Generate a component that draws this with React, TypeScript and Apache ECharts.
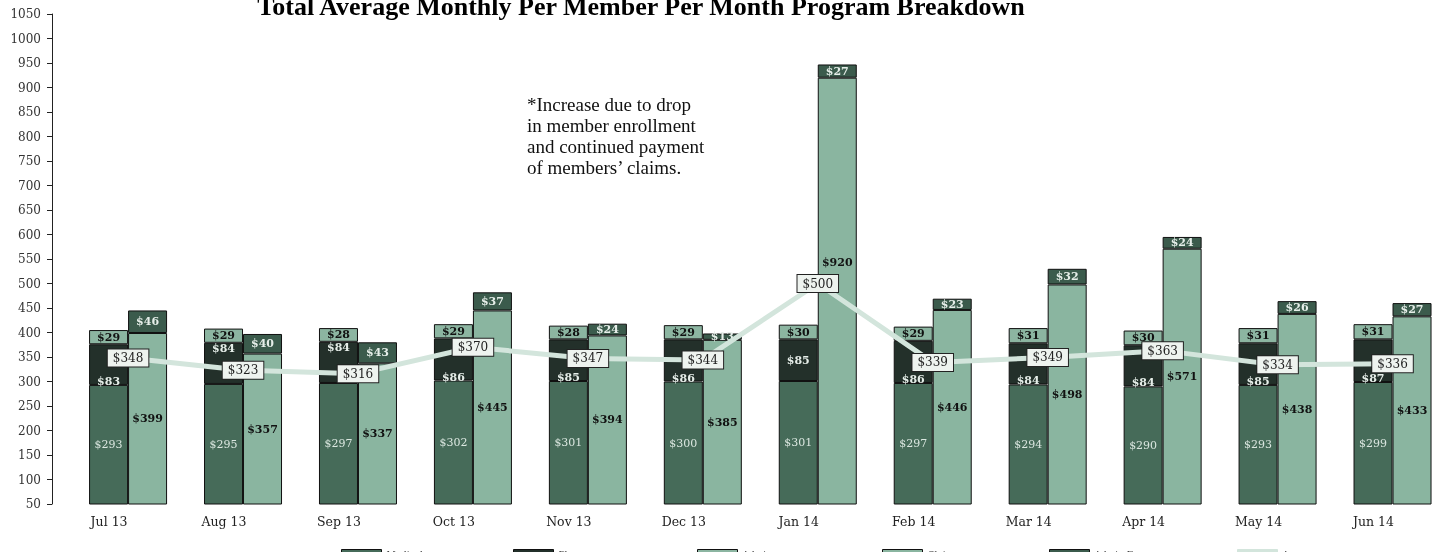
import React, { useEffect, useRef } from "react";
import * as echarts from "echarts";

const categories = ["Jul 13", "Aug 13", "Sep 13", "Oct 13", "Nov 13", "Dec 13", "Jan 14", "Feb 14", "Mar 14", "Apr 14", "May 14", "Jun 14"];
const seriesNames = ["Medical", "Pharmacy", "Admin", "Claims", "Admin Fees", "Average"];
const medical = [293, 295, 297, 302, 301, 300, 301, 297, 294, 290, 293, 299];
const pharmacy = [83, 84, 84, 86, 85, 86, 85, 86, 84, 84, 85, 87];
const admin = [29, 29, 28, 29, 28, 29, 30, 29, 31, 30, 31, 31];
const claims = [399, 357, 337, 445, 394, 385, 920, 446, 498, 571, 438, 433];
const adminFees = [46, 40, 43, 37, 24, 13, 27, 23, 32, 24, 26, 27];
const average = [348, 323, 316, 370, 347, 344, 500, 339, 349, 363, 334, 336];
const yTicks = { min: 50, max: 1050, interval: 50 };
const titleText = "Total Average Monthly Per Member Per Month Program Breakdown";
const noteText = "*Increase due to drop\nin member enrollment\nand continued payment\nof members\u2019 claims.";

const colors = ["#466b59", "#23302a", "#8cb5a1", "#8ab5a0", "#3b5b4c", "#d3e5dc"];
const serif = "DejaVu Serif";

export default function App() {
  const ref = useRef<HTMLDivElement>(null);
  useEffect(() => {
    const chart = echarts.init(ref.current!, null, { renderer: "svg" });
    const lbl = (color: string, bold: boolean) => ({
      show: true,
      position: "inside",
      color,
      fontFamily: serif,
      fontSize: 11,
      fontWeight: bold ? "bold" : "normal",
      formatter: (p: any) => "$" + p.value,
    });
    const bar = (name: string, data: any[], stack: string, color: string, labelColor: string, bold: boolean) => ({
      name,
      type: "bar",
      stack,
      data,
      barWidth: 39,
      barGap: "0%",
      itemStyle: { color, borderColor: "#111", borderWidth: 1 },
      label: lbl(labelColor, bold),
      emphasis: { disabled: true },
    });
    // move the pharmacy label away from the average-line label
    const pharmacyData = pharmacy.map((v, i) => {
      const lo = medical[i];
      const hi = lo + v;
      const c = (lo + hi) / 2;
      const a = average[i];
      if (a > hi + 40 || a < lo - 40) return v;
      const bottom = a >= c - 7;
      return { value: v, label: { position: bottom ? "insideBottom" : "insideTop", distance: bottom ? -2 : 0 } };
    });
    // move the claims label above the average-line label when they would collide
    const claimsData = claims.map((v, i) => {
      const c = (yTicks.min + v) / 2;
      const a = average[i];
      if (Math.abs(a - c) > 30) return v;
      const target = a + 44;
      const pct = ((v - target) / (v - yTicks.min)) * 100;
      return { value: v, label: { position: ["50%", pct + "%"], align: "center", verticalAlign: "middle" } };
    });
    const legendX = [336, 508, 692, 877, 1044, 1232];
    chart.setOption({
      animation: false,
      color: colors,
      grid: { left: 70.6, right: -10, top: 14, bottom: 48 },
      legend: seriesNames.map((n, i) => ({
        data: [{ name: n, icon: "rect", itemStyle: { borderColor: i === 5 ? colors[5] : "#111", borderWidth: 1 } }],
        left: legendX[i],
        top: 544,
        itemWidth: 40,
        itemHeight: 10,
        itemGap: 4,
        textStyle: { fontFamily: serif, fontSize: 9, color: "#444" },
      })),
      xAxis: {
        type: "category",
        data: categories,
        axisLine: { show: false },
        axisTick: { show: false },
        axisLabel: { fontFamily: serif, fontSize: 12.5, color: "#222", margin: 11, padding: [0, 38, 0, 0] },
      },
      yAxis: {
        type: "value",
        min: yTicks.min,
        max: yTicks.max,
        interval: yTicks.interval,
        offset: 18.6,
        axisLine: { show: true, lineStyle: { color: "#222" } },
        axisTick: { show: true, length: 5, lineStyle: { color: "#222" } },
        splitLine: { show: false },
        axisLabel: { fontFamily: serif, fontSize: 12, color: "#333", margin: 11, formatter: (v: number) => String(v) },
      },
      graphic: [
        {
          type: "text",
          x: 641,
          y: -7,
          style: { text: titleText, fontFamily: "Liberation Serif", fontWeight: "bold", fontSize: 26, fill: "#000", textAlign: "center" },
        },
        {
          type: "text",
          x: 527,
          y: 94,
          style: { text: noteText, fontFamily: "Liberation Serif", fontSize: 19, lineHeight: 21, fill: "#111" },
        },
      ],
      series: [
        bar(seriesNames[0], medical, "a", colors[0], "#dbe7e0", false),
        bar(seriesNames[1], pharmacyData, "a", colors[1], "#e6eee9", true),
        bar(seriesNames[2], admin, "a", colors[2], "#111", true),
        bar(seriesNames[3], claimsData, "b", colors[3], "#111", true),
        bar(seriesNames[4], adminFees, "b", colors[4], "#e6eee9", true),
        {
          name: seriesNames[5],
          type: "line",
          data: average,
          z: 5,
          symbol: "circle",
          symbolSize: 1,
          lineStyle: { color: colors[5], width: 5 },
          itemStyle: { color: colors[5] },
          label: {
            show: true,
            position: "inside",
            formatter: (p: any) => "$" + p.value,
            backgroundColor: "#eef3ef",
            borderColor: "#222",
            borderWidth: 1,
            padding: [3, 5, 2, 5],
            color: "#222",
            fontFamily: serif,
            fontSize: 12,
          },
          emphasis: { disabled: true },
        },
      ],
    });
    return () => chart.dispose();
  }, []);
  return <div ref={ref} style={{ position: "fixed", left: 0, top: 0, width: 1450, height: 552 }} />;
}
